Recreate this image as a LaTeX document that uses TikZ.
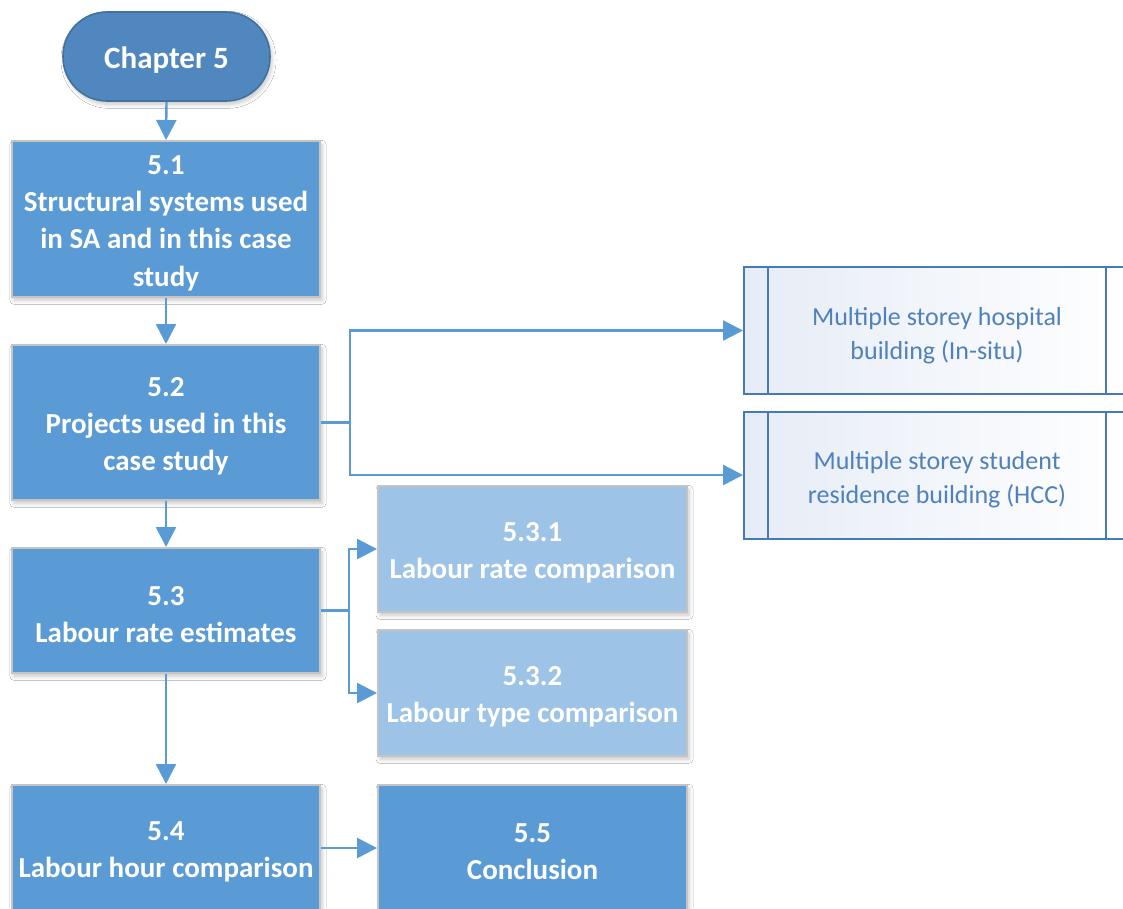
\documentclass[tikz,border=0pt]{standalone}
\usepackage{fontspec}
\setmainfont{Carlito}
\usetikzlibrary{arrows.meta,calc,shadows.blur}
\definecolor{mainfill}{RGB}{91,155,213}
\definecolor{lightfill}{RGB}{157,195,230}
\definecolor{boxborder}{RGB}{196,196,196}
\definecolor{chapfill}{RGB}{80,135,190}
\definecolor{chapborder}{RGB}{65,113,156}
\definecolor{conncol}{RGB}{91,155,213}
\definecolor{procborder}{RGB}{70,122,182}
\definecolor{proctext}{RGB}{79,129,189}
\definecolor{procleft}{RGB}{230,236,246}
\def\pxu{0.75pt}
\newcommand\mystrutA{\rule{0pt}{20pt}}
\newcommand\mystrutB{\rule{0pt}{21pt}}
\begin{document}
\begin{tikzpicture}[x=0.75pt,y=-0.75pt,
  shadowed/.style={blur shadow={shadow xshift=1.5pt, shadow yshift=-2.5pt, shadow opacity=22, shadow blur steps=6, shadow blur radius=3pt}},
  mainbox/.style={draw=boxborder, line width=1.5pt, fill=mainfill, text=white,
    font=\fontsize{21.75}{28}\selectfont\bfseries, align=center, inner sep=0pt,
    minimum width=308*\pxu, shadowed},
  lightbox/.style={mainbox, fill=lightfill, minimum width=309*\pxu},
  chap/.style={draw=chapborder, line width=1.2pt, fill=chapfill, text=white,
    rounded corners=33pt, font=\fontsize{23.25}{28}\selectfont\bfseries,
    minimum width=207*\pxu, minimum height=89*\pxu, inner sep=0pt, shadowed,
    execute at begin node={\rule{0pt}{22pt}}},
  proc/.style={draw=procborder, line width=1.5pt, left color=procleft, right color=white,
    text=proctext, font=\fontsize{19.5}{25.5}\selectfont, align=center, inner sep=0pt,
    minimum width=386*\pxu, minimum height=127*\pxu},
  link/.style={draw=conncol, line width=1.8pt},
  conn/.style={link, -{Triangle[length=15pt,width=15pt]}}
]
\useasboundingbox (0,0) rectangle (1123,908);
\fill[white] (0,0) rectangle (1123,908);
\clip (0,0) rectangle (1123,908);

\node[chap] (ch5) at (166.5,56.5) {Chapter 5};
\node[mainbox, minimum height=156*\pxu] (s51) at (166,219) {\mystrutA 5.1\\Structural systems used\\in SA and in this case\\study};
\node[mainbox, minimum height=155*\pxu] (s52) at (166,422.5) {\mystrutA 5.2\\Projects used in this\\case study};
\node[mainbox, minimum height=125*\pxu] (s53) at (166,610.5) {\mystrutA 5.3\\Labour rate estimates};
\node[mainbox, minimum height=126*\pxu] (s54) at (166,848) {\mystrutA 5.4\\Labour hour comparison};
\node[lightbox, minimum height=126*\pxu] (s531) at (532.5,549) {\mystrutA 5.3.1\\Labour rate comparison};
\node[lightbox, minimum height=126*\pxu] (s532) at (532.5,693) {\mystrutA 5.3.2\\Labour type comparison};
\node[mainbox, minimum width=309*\pxu, minimum height=126*\pxu] (s55) at (532.5,848) {\mystrutA 5.5\\Conclusion};

\node[proc] (p1) at (937,330.5) {\mystrutB Multiple storey hospital\\building (In-situ)};
\node[proc] (p2) at (937,475) {\mystrutB Multiple storey student\\residence building (HCC)};
\foreach \p in {p1,p2}{
  \draw[procborder, line width=1.5pt] ($(\p.north west)+(25,0)$) -- ($(\p.south west)+(25,0)$);
  \draw[procborder, line width=1.5pt] ($(\p.north east)+(-25,0)$) -- ($(\p.south east)+(-25,0)$);
}

\draw[conn] (ch5.south) -- (s51.north);
\draw[conn] (s51.south) -- (s52.north);
\draw[conn] (s52.south) -- (s53.north);
\draw[conn] (s53.south) -- (s54.north);
\draw[conn] (s54.east) -- (s55.west);

\coordinate (j1) at (350,422.5);
\draw[link] (s52.east) -- (j1);
\draw[conn] (j1) |- (p1.west);
\draw[conn] (j1) |- (p2.west);

\coordinate (j2) at (349,610.5);
\draw[link] (s53.east) -- (j2);
\draw[conn] (j2) |- (s531.west);
\draw[conn] (j2) |- (s532.west);
\end{tikzpicture}
\end{document}
